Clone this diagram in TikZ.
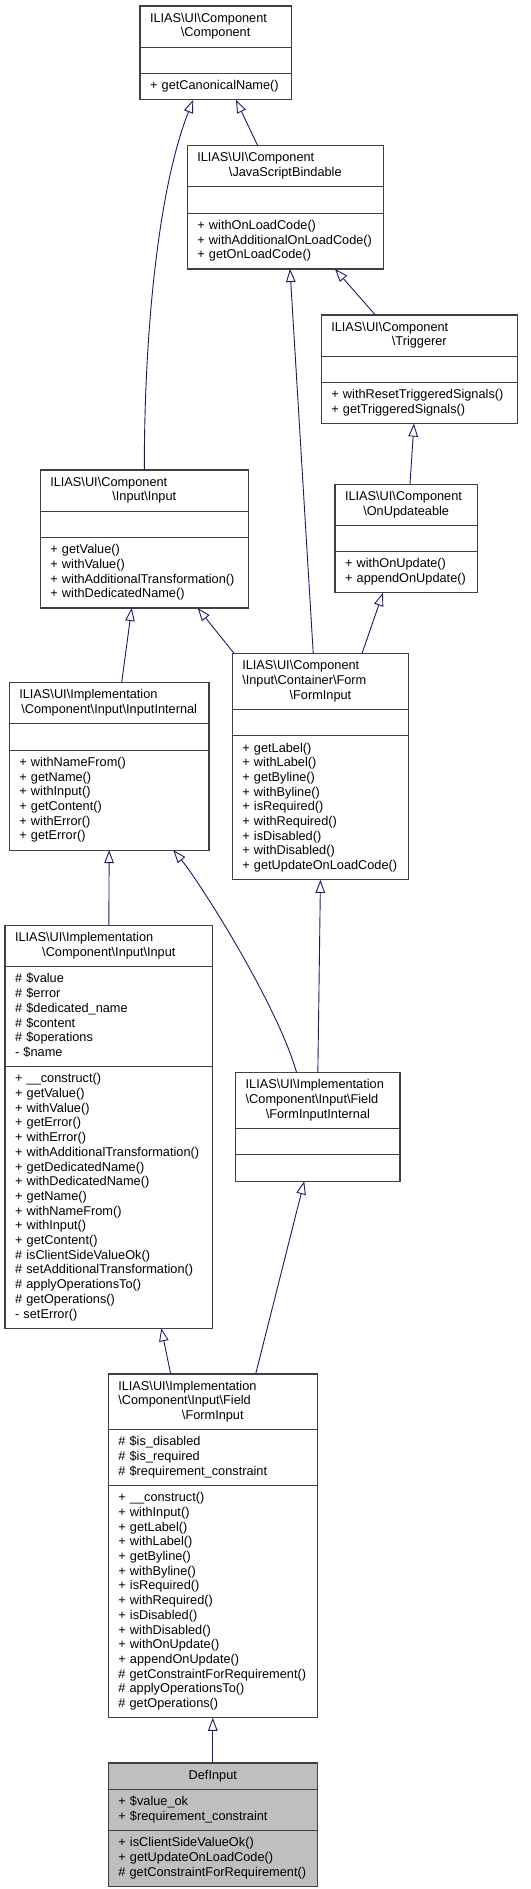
\documentclass[tikz,border=0pt]{standalone}
\usepackage{fontspec}
\setmainfont{Liberation Sans}
\usetikzlibrary{shapes.multipart,arrows.meta}
\definecolor{edgeblue}{HTML}{191970}
\definecolor{boxgray}{HTML}{404040}
\definecolor{curfill}{HTML}{BFBFBF}
\hyphenpenalty=10000
\exhyphenpenalty=10000
\newcommand{\bksl}{\textbackslash}
\newcommand{\ctr}[1]{\hspace*{\fill}#1\hspace*{\fill}}
\tikzset{
  cls/.style={rectangle split, rectangle split parts=3, draw=boxgray, line width=1.1pt,
    anchor=north west, inner xsep=10pt, inner ysep=5.3pt, outer sep=0pt, align=left,
    font=\fontsize{12.75}{14.7}\selectfont},
  inherit/.style={draw=edgeblue, line width=0.9pt, -{Triangle[open,length=13pt,width=9.5pt]}}
}
\begin{document}
\begin{tikzpicture}[x=1pt,y=-1pt]
\useasboundingbox (0,0) rectangle (530,1889);
\node[cls, text width=131.3pt] (comp) at (140,6) {\strut ILIAS\bksl UI\bksl Component\\\ctr{\bksl Component}\strut
  \nodepart{two}\strut
  \nodepart{three}\strut +~getCanonicalName()\strut};
\node[cls, text width=176pt] (jsb) at (187.3,145.7) {\strut ILIAS\bksl UI\bksl Component\\\ctr{\bksl JavaScriptBindable}\strut
  \nodepart{two}\strut
  \nodepart{three}\strut +~withOnLoadCode()\\+~withAdditionalOnLoadCode()\\+~getOnLoadCode()\strut};
\node[cls, text width=176pt] (trig) at (321.3,315) {\strut ILIAS\bksl UI\bksl Component\\\ctr{\bksl Triggerer}\strut
  \nodepart{two}\strut
  \nodepart{three}\strut +~withResetTriggeredSignals()\\+~getTriggeredSignals()\strut};
\node[cls, text width=188pt] (inp) at (40.3,470) {\strut ILIAS\bksl UI\bksl Component\\\ctr{\bksl Input\bksl Input}\strut
  \nodepart{two}\strut
  \nodepart{three}\strut +~getValue()\\+~withValue()\\+~withAdditionalTransformation()\\+~withDedicatedName()\strut};
\node[cls, text width=122.3pt] (onupd) at (335,484.3) {\strut ILIAS\bksl UI\bksl Component\\\ctr{\bksl OnUpdateable}\strut
  \nodepart{two}\strut
  \nodepart{three}\strut +~withOnUpdate()\\+~appendOnUpdate()\strut};
\node[cls, text width=179.7pt] (inpint) at (9.3,682.7) {\strut ILIAS\bksl UI\bksl Implementation\\\ctr{\bksl Component\bksl Input\bksl InputInternal}\strut
  \nodepart{two}\strut
  \nodepart{three}\strut +~withNameFrom()\\+~getName()\\+~withInput()\\+~getContent()\\+~withError()\\+~getError()\strut};
\node[cls, text width=156.3pt] (fi) at (232.3,653.7) {\strut ILIAS\bksl UI\bksl Component\\\bksl Input\bksl Container\bksl Form\\\ctr{\bksl FormInput}\strut
  \nodepart{two}\strut
  \nodepart{three}\strut +~getLabel()\\+~withLabel()\\+~getByline()\\+~withByline()\\+~isRequired()\\+~withRequired()\\+~isDisabled()\\+~withDisabled()\\+~getUpdateOnLoadCode()\strut};
\node[cls, text width=187.7pt] (inpimpl) at (5,925.7) {\strut ILIAS\bksl UI\bksl Implementation\\\ctr{\bksl Component\bksl Input\bksl Input}\strut
  \nodepart{two}\strut \#~\$value\\\#~\$error\\\#~\$dedicated\_name\\\#~\$content\\\#~\$operations\\-~\$name\strut
  \nodepart{three}\strut +~\_\_construct()\\+~getValue()\\+~withValue()\\+~getError()\\+~withError()\\+~withAdditionalTransformation()\\+~getDedicatedName()\\+~withDedicatedName()\\+~getName()\\+~withNameFrom()\\+~withInput()\\+~getContent()\\\#~isClientSideValueOk()\\\#~setAdditionalTransformation()\\\#~applyOperationsTo()\\\#~getOperations()\\-~setError()\strut};
\node[cls, text width=144.3pt] (fii) at (235.7,1072.7) {\strut ILIAS\bksl UI\bksl Implementation\\\bksl Component\bksl Input\bksl Field\\\ctr{\bksl FormInputInternal}\strut
  \nodepart{two}\strut
  \nodepart{three}\strut};
\node[cls, text width=189pt] (ffi) at (108.3,1374) {\strut ILIAS\bksl UI\bksl Implementation\\\bksl Component\bksl Input\bksl Field\\\ctr{\bksl FormInput}\strut
  \nodepart{two}\strut \#~\$is\_disabled\\\#~\$is\_required\\\#~\$requirement\_constraint\strut
  \nodepart{three}\strut +~\_\_construct()\\+~withInput()\\+~getLabel()\\+~withLabel()\\+~getByline()\\+~withByline()\\+~isRequired()\\+~withRequired()\\+~isDisabled()\\+~withDisabled()\\+~withOnUpdate()\\+~appendOnUpdate()\\\#~getConstraintForRequirement()\\\#~applyOperationsTo()\\\#~getOperations()\strut};
\node[cls, text width=189pt, fill=curfill] (def) at (108.3,1763) {\strut\ctr{DefInput}\strut
  \nodepart{two}\strut +~\$value\_ok\\+~\$requirement\_constraint\strut
  \nodepart{three}\strut +~isClientSideValueOk()\\+~getUpdateOnLoadCode()\\\#~getConstraintForRequirement()\strut};
\draw[inherit] (inp.north) .. controls +(0,-150) and +(-33,83) .. ([xshift=-22.4pt]comp.south);
\draw[inherit] ([xshift=-27.6pt]jsb.north) -- ([xshift=20.3pt]comp.south);
\draw[inherit] ([xshift=-7.2pt]fi.north) -- ([xshift=4.7pt]jsb.south);
\draw[inherit] ([xshift=-44pt]trig.north) -- ([xshift=49.7pt]jsb.south);
\draw[inherit] ([xshift=3.8pt]onupd.north) -- ([xshift=-5.3pt]trig.south);
\draw[inherit] ([xshift=12.5pt]inpint.north) -- ([xshift=-12.6pt]inp.south);
\draw[inherit] ([xshift=2pt]fi.north west) -- ([xshift=53.4pt]inp.south);
\draw[inherit] ([xshift=41.5pt]fi.north) -- ([xshift=-23.2pt]onupd.south);
\draw[inherit] (inpimpl.north) -- (inpint.south);
\draw[inherit] ([xshift=-21.2pt]fii.north) .. controls +(-20,-70) and +(25,30) .. ([xshift=64.1pt]inpint.south);
\draw[inherit] (fii.north) -- (fi.south);
\draw[inherit] ([xshift=-42.1pt]ffi.north) -- ([xshift=52.4pt]inpimpl.south);
\draw[inherit] ([xshift=42.9pt]ffi.north) -- ([xshift=-13.6pt]fii.south);
\draw[inherit] (def.north) -- (ffi.south);
\end{tikzpicture}
\end{document}
